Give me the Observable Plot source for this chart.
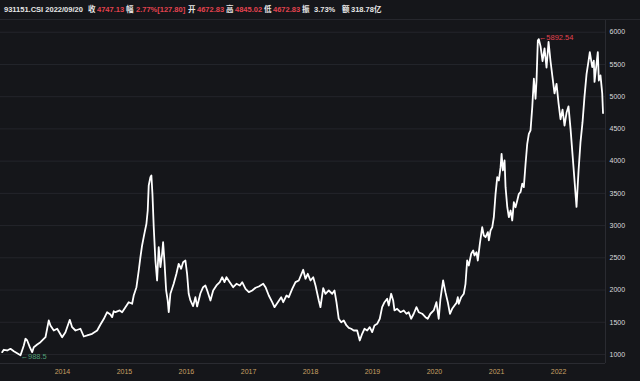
<!DOCTYPE html>
<html><head><meta charset="utf-8">
<script src="https://cdn.jsdelivr.net/npm/d3@7"></script>
<script src="https://cdn.jsdelivr.net/npm/@observablehq/plot@0.6"></script>
<style>
html,body{margin:0;padding:0;background:#15161a;}
#wrap{width:640px;height:381px;position:relative;overflow:hidden;background:#15161a;}
#hdr{position:relative;height:19px;border-bottom:1px solid #26272d;font:bold 7.5px "Liberation Sans","Noto Sans CJK SC",sans-serif;color:#e6e6e6;}
#hdr span{position:absolute;top:0;line-height:19px;white-space:nowrap;}
#hdr .v{color:#e2434f;}
#chart svg{display:block;}
</style></head><body>
<div id="wrap"><div id="hdr"></div><div id="chart"></div></div>
<script>
// Header info
const headerTexts = ["931151.CSI 2022/09/20","收","4747.13","幅","2.77%[127.80]","开","4672.83","高","4845.02","低","4672.83","振","3.73%","额","318.78亿"];
const headerIsValue = [false,false,true,false,true,false,true,false,true,false,true,false,false,false,false];
const headerLeft = [4,88,97,126,136,188,197,226,235,264,273,302,314,342,351];

// Series (decimal year, close)
const years = [2013.027,2013.053,2013.108,2013.161,2013.215,2013.269,2013.323,2013.376,2013.403,2013.431,2013.473,2013.511,2013.537,2013.592,2013.645,2013.726,2013.779,2013.806,2013.860,2013.915,2013.995,
2014.048,2014.118,2014.156,2014.210,2014.290,2014.344,2014.398,2014.479,2014.560,2014.613,2014.666,2014.721,2014.774,2014.802,2014.827,2014.855,2014.924,2014.963,
2015.016,2015.069,2015.124,2015.150,2015.194,2015.231,2015.258,2015.285,2015.311,2015.327,2015.355,2015.376,2015.392,2015.419,2015.435,2015.452,2015.473,2015.500,2015.527,2015.553,2015.581,2015.608,2015.624,2015.645,2015.673,2015.698,2015.715,2015.742,2015.795,2015.839,2015.876,2015.915,2015.947,2015.984,
2016.011,2016.037,2016.065,2016.108,2016.145,2016.173,2016.226,2016.269,2016.306,2016.344,2016.387,2016.431,2016.484,2016.537,2016.576,2016.613,2016.645,2016.698,2016.753,2016.806,2016.860,2016.898,2016.952,
2017.005,2017.060,2017.113,2017.166,2017.237,2017.274,2017.327,2017.382,2017.419,2017.473,2017.527,2017.560,2017.613,2017.650,2017.705,2017.758,2017.811,2017.882,2017.919,2017.956,
2018.000,2018.044,2018.081,2018.134,2018.161,2018.205,2018.242,2018.295,2018.350,2018.387,2018.419,2018.456,2018.495,2018.537,2018.581,2018.618,2018.656,2018.698,2018.753,2018.795,2018.834,2018.871,2018.915,2018.956,2018.995,
2019.032,2019.076,2019.118,2019.156,2019.194,2019.237,2019.263,2019.302,2019.334,2019.355,2019.398,2019.452,2019.505,2019.548,2019.585,2019.624,2019.666,2019.710,2019.747,2019.802,2019.855,2019.892,2019.935,2019.989,
2020.032,2020.069,2020.097,2020.140,2020.177,2020.215,2020.250,2020.285,2020.323,2020.355,2020.376,2020.392,2020.431,2020.473,2020.500,2020.527,2020.553,2020.592,2020.624,2020.645,2020.677,2020.698,2020.731,2020.769,2020.795,2020.823,2020.860,2020.876,2020.903,2020.931,2020.956,2020.984,
2021.011,2021.037,2021.065,2021.081,2021.102,2021.129,2021.145,2021.173,2021.198,2021.226,2021.253,2021.279,2021.306,2021.334,2021.360,2021.387,2021.415,2021.440,2021.468,2021.495,2021.521,2021.548,2021.576,2021.602,2021.629,2021.645,2021.666,2021.682,2021.710,2021.742,2021.774,2021.806,2021.839,2021.871,2021.903,2021.935,2021.968,
2022.000,2022.032,2022.065,2022.097,2022.129,2022.161,2022.194,2022.226,2022.258,2022.290,2022.323,2022.355,2022.387,2022.419,2022.452,2022.484,2022.505,2022.544,2022.569,2022.581,2022.613,2022.634,2022.650,2022.677,2022.705,2022.718];
const closes = [1036,1073,1062,1088,1051,1020,988.5,1140,1244,1217,1113,1036,1113,1155,1191,1268,1528,1450,1372,1399,1268,
1346,1538,1424,1372,1399,1279,1295,1321,1372,1465,1550,1656,1621,1579,1672,1656,1683,1656,
1734,1811,1787,1915,2044,2303,2510,2691,2820,2898,3028,3234,3622,3751,3777,3493,2975,2458,2148,2665,2355,2562,2742,2458,1993,1838,1656,1942,2097,2252,2407,2330,2432,2458,
2252,1942,1838,1750,1889,1745,1950,2044,2071,1967,1838,1993,2071,2122,2199,2122,2199,2122,2044,2097,2071,2122,2019,
1967,1993,2035,2055,2097,2044,1915,1811,1734,1811,1889,1811,1915,1889,2019,2122,2148,2314,2175,2252,
2148,2199,2071,1838,1734,2030,1940,1993,1942,1993,1811,1554,1501,1528,1450,1414,1399,1372,1372,1217,1321,1399,1372,1424,1346,
1450,1476,1554,1734,1811,1864,1760,1942,1838,1683,1709,1656,1683,1632,1656,1554,1632,1734,1656,1632,1579,1554,1632,1683,
1811,1554,1864,2148,1967,1811,1630,1709,1760,1800,1889,1787,1889,1942,2097,2458,2381,2562,2614,2536,2587,2458,2718,2975,2846,2820,2898,2769,2924,2975,3130,3493,
3751,3700,3906,4114,3855,4010,3596,3285,3130,3234,3079,3363,3285,3390,3493,3518,3649,3596,3959,4269,4424,4476,4837,5278,4967,5251,5872,5892.54,5780,5550,5750,5450,5850,5550,5300,5050,5200,
4900,4650,4800,4550,4750,4850,4500,4100,3700,3290,3850,4300,4600,5000,5350,5550,5690,5460,5560,5230,5510,5690,5250,5330,5050,4747.13];

const yTicks = [1000,1500,2000,2500,3000,3500,4000,4500,5000,5500,6000];
const xTickYears = [2014,2015,2016,2017,2018,2019,2020,2021,2022];

// header
const hdr = document.getElementById("hdr");
headerTexts.forEach((t,i)=>{
  const s = document.createElement("span");
  s.textContent = t;
  if (headerIsValue[i]) s.className = "v";
  s.style.left = headerLeft[i] + "px";
  hdr.appendChild(s);
});

function decToDate(y){
  const yr = Math.floor(y);
  const a = Date.UTC(yr,0,1), b = Date.UTC(yr+1,0,1);
  return new Date(a + (y-yr)*(b-a));
}
const data = years.map((y,i)=>({date: decToDate(y), close: closes[i]}));
const iMax = d3.maxIndex(closes), iMin = d3.minIndex(closes);
const xEnd = decToDate(2022.758);

const chart = Plot.plot({
  width: 640, height: 361,
  marginTop: 0, marginBottom: 18, marginLeft: 0, marginRight: 35,
  style: {background: "transparent", fontFamily: "Liberation Sans, sans-serif"},
  x: {type: "utc", domain: [decToDate(2013), xEnd]},
  y: {domain: [860, 6182]},
  marks: [
    Plot.ruleY(yTicks, {stroke: "#24252b", strokeWidth: 1}),
    Plot.ruleX([xEnd], {stroke: "#2a2b31"}),
    Plot.ruleY([860], {stroke: "#2a2b31"}),
    Plot.axisX({ticks: xTickYears.map(y=>new Date(Date.UTC(y,0,1))), tickFormat: d3.utcFormat("%Y"), tickSize: 0, tickPadding: 6, color: "#c9a064", fontSize: 7, label: null}),
    Plot.axisY({anchor: "right", ticks: yTicks, tickFormat: d=>String(d), tickSize: 0, tickPadding: 4, color: "#dcdcdc", fontSize: 7, label: null}),
    Plot.line(data, {x: "date", y: "close", stroke: "#ffffff", strokeWidth: 1.8, strokeLinejoin: "round"}),
    Plot.text([data[iMax]], {x: "date", y: "close", text: d=>"←" + d.close, textAnchor: "start", dy: -2, fill: "#e2434f", fontSize: 7.5}),
    Plot.text([data[iMin]], {x: "date", y: "close", text: d=>"←" + d.close, textAnchor: "start", dy: 1, fill: "#4f9d76", fontSize: 7.5})
  ]
});
document.getElementById("chart").appendChild(chart);
</script>
</body></html>
